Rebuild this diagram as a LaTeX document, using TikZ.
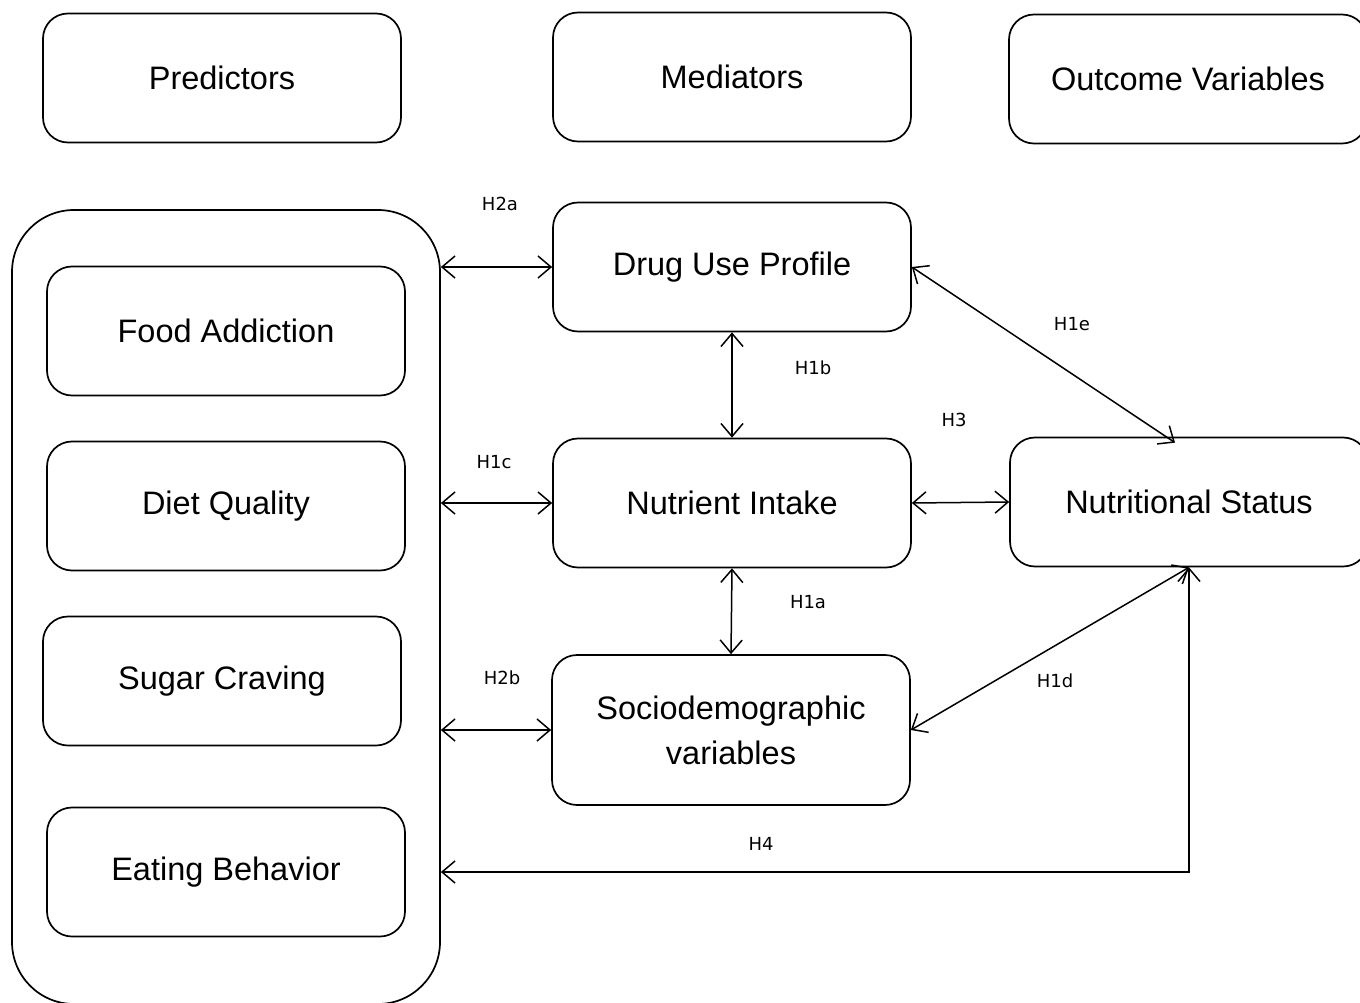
\documentclass[tikz,border=0pt]{standalone}
\usepackage{fontspec}
\setmainfont{Liberation Sans}
\newfontfamily\labfont{DejaVu Sans}
\usetikzlibrary{arrows.meta}

\begin{document}
\begin{tikzpicture}[x=1pt, y=-1pt,
    box/.style={draw, line width=1.7pt, rounded corners=25pt, minimum width=358pt,
      minimum height=129pt, inner sep=0pt, align=center,
      font=\fontsize{32.5}{45}\selectfont},
    hyp/.style={font=\labfont\fontsize{18}{21}\selectfont},
    link/.style={<->, >={Straight Barb[length=13pt, width=22pt]}, line width=1.5pt}]
    \clip (0,0) rectangle (1360,1003);
    \fill [white] (0,0) rectangle (1360,1003);

    % column headings
    \node (predhead) at (222,78) [box] {Predictors};
    \node (medhead) at (732,77) [box] {Mediators};
    \node (outhead) at (1188,79) [box] {Outcome Variables};

    % predictors
    \node (pred) at (226,607) [draw, line width=1.7pt, rounded corners=62pt,
      minimum width=428pt, minimum height=794pt] {};
    \node (food) at (226,331) [box] {Food Addiction};
    \node (diet) at (226,506) [box] {Diet Quality};
    \node (sugar) at (222,681) [box] {Sugar Craving};
    \node (eat) at (226,872) [box] {Eating Behavior};

    % mediators and outcome
    \node (drug) at (732,267) [box] {Drug Use Profile};
    \node (nutr) at (732,503) [box] {Nutrient Intake};
    \node (socio) at (731,730) [box, minimum height=150pt] {Sociodemographic\\variables};
    \node (status) at (1189,502) [box] {Nutritional Status};

    % hypotheses
    \draw [link] (drug.west -| pred.east) -- (drug.west);
    \draw [link] (nutr.west -| pred.east) -- (nutr.west);
    \draw [link] (socio.west -| pred.east) -- (socio.west);
    \draw [link] (drug.south) -- (nutr.north);
    \draw [link] (nutr.south) -- (socio.north);
    \draw [link] (nutr.east) -- (status.west);
    \draw [link] (drug.east) -- ([xshift=-14pt,yshift=-6pt]status.north);
    \draw [link] (socio.east) -- (status.south);
    \draw [link] (status.south) |- (eat -| pred.east);

    \node (h2a) at (500,204) [hyp] {H2a};
    \node (h1c) at (494,462) [hyp] {H1c};
    \node (h2b) at (502,678) [hyp] {H2b};
    \node (h1b) at (813,368) [hyp] {H1b};
    \node (h1a) at (808,602) [hyp] {H1a};
    \node (h3) at (954,420) [hyp] {H3};
    \node (h1e) at (1072,324) [hyp] {H1e};
    \node (h1d) at (1055,681) [hyp] {H1d};
    \node (h4) at (761,844) [hyp] {H4};
\end{tikzpicture}
\end{document}
